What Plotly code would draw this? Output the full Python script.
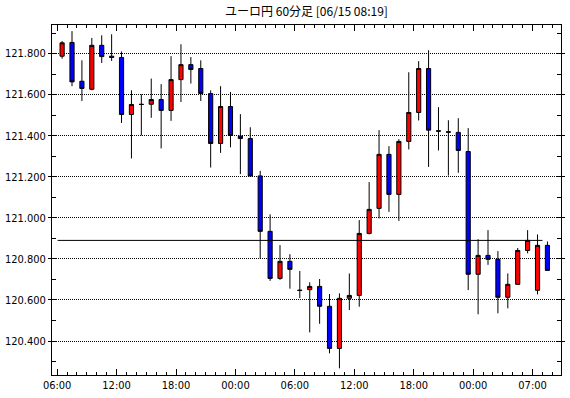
import plotly.graph_objects as go

title_text = "ユーロ円 60分足 [06/15 08:19]"

opens = [121.787, 121.854, 121.665, 121.626, 121.840, 121.787, 121.781, 121.503, 121.553, 121.553,
         121.576, 121.523, 121.673, 121.746, 121.727, 121.605, 121.362, 121.542, 121.398, 121.386,
         121.204, 120.934, 120.705, 120.788, 120.648, 120.650, 120.666, 120.569, 120.364, 120.608,
         120.622, 120.924, 121.046, 121.309, 121.114, 121.372, 121.513, 121.727, 121.424, 121.419,
         121.416, 121.323, 120.725, 120.817, 120.798, 120.613, 120.676, 120.841, 120.647, 120.866]
highs = [121.861, 121.909, 121.767, 121.876, 121.889, 121.894, 121.810, 121.621, 121.602, 121.678,
         121.651, 121.787, 121.845, 121.783, 121.767, 121.621, 121.641, 121.613, 121.505, 121.441,
         121.229, 121.017, 120.867, 120.823, 120.741, 120.686, 120.702, 120.629, 120.632, 120.729,
         120.989, 121.174, 121.427, 121.349, 121.383, 121.709, 121.763, 121.816, 121.539, 121.475,
         121.485, 121.437, 120.896, 120.940, 120.838, 120.729, 120.853, 120.940, 120.919, 120.885]
lows = [121.775, 121.641, 121.569, 121.621, 121.754, 121.764, 121.462, 121.289, 121.401, 121.487,
        121.338, 121.472, 121.564, 121.654, 121.569, 121.245, 121.316, 121.343, 121.213, 121.200,
        120.802, 120.693, 120.698, 120.655, 120.609, 120.442, 120.484, 120.340, 120.267, 120.551,
        120.567, 120.919, 120.997, 121.029, 120.985, 121.333, 121.474, 121.248, 121.328, 121.206,
        121.219, 120.648, 120.530, 120.771, 120.535, 120.559, 120.676, 120.827, 120.627, 120.744]
closes = [121.852, 121.662, 121.630, 121.840, 121.785, 121.781, 121.503, 121.552, 121.552, 121.576,
          121.523, 121.673, 121.746, 121.722, 121.605, 121.362, 121.542, 121.401, 121.386, 121.204,
          120.934, 120.705, 120.788, 120.749, 120.646, 120.666, 120.569, 120.364, 120.608, 120.622,
          120.924, 121.041, 121.309, 121.114, 121.372, 121.513, 121.727, 121.427, 121.422, 121.417,
          121.328, 120.725, 120.817, 120.798, 120.613, 120.676, 120.841, 120.890, 120.866, 120.744]

# hour slot index of each candle (0 = first 06:00 slot)
slots = list(range(len(opens)))
x_tick_slots = [0, 6, 12, 18, 24, 30, 36, 42, 48]
x_tick_labels = ["06:00", "12:00", "18:00", "00:00", "06:00", "12:00", "18:00", "00:00", "07:00"]
ref_price = 120.890
ref_line_slots = [0.05, 49.0]

xs = [s + 0.5 for s in slots]

font_fam = "Liberation Sans Narrow, DejaVu Sans Condensed, DejaVu Sans, sans-serif"

fig = go.Figure()
fig.add_trace(go.Candlestick(
    x=xs, open=opens, high=highs, low=lows, close=closes,
    increasing=dict(fillcolor="#FF0000", line=dict(color="#000000", width=1)),
    decreasing=dict(fillcolor="#0000FF", line=dict(color="#000000", width=1)),
    whiskerwidth=0, hoverinfo="skip", showlegend=False,
))
fig.add_trace(go.Scatter(
    x=ref_line_slots, y=[ref_price, ref_price], mode="lines",
    line=dict(color="#000000", width=1), hoverinfo="skip", showlegend=False,
))

fig.update_layout(
    width=570, height=398,
    margin=dict(l=49, r=5, t=25, b=23),
    paper_bgcolor="white", plot_bgcolor="white",
    boxgap=0.4,
    title=dict(text=title_text, x=0.5, xref="paper", xanchor="center",
               y=1 - 12 / 398, yref="container", yanchor="middle",
               font=dict(family="Noto Sans CJK JP", size=12, color="#000000")),
    font=dict(family=font_fam, size=11, color="#000000"),
    showlegend=False,
)
fig.update_xaxes(
    range=[-0.52, 50.87], rangeslider=dict(visible=False),
    tickmode="array", tickvals=x_tick_slots, ticktext=x_tick_labels,
    ticks="inside", ticklen=6, tickcolor="#000000", tickwidth=1,
    minor=dict(tickmode="linear", tick0=0, dtick=1, ticks="inside", ticklen=3,
               tickcolor="#000000", showgrid=False),
    showgrid=False, zeroline=False,
    showline=True, linecolor="#000000", linewidth=1, mirror="ticks",
    tickfont=dict(family=font_fam, size=11, color="#000000"),
)
fig.update_yaxes(
    range=[120.2345, 121.939],
    tickmode="linear", tick0=120.4, dtick=0.2, tickformat=".3f",
    ticks="outside", ticklen=3, tickcolor="#000000", tickwidth=1,
    minor=dict(tickmode="linear", tick0=120.3, dtick=0.1, ticks="inside", ticklen=4,
               tickcolor="#000000", showgrid=False),
    showgrid=True, gridcolor="#000000", gridwidth=1, griddash="1px,1px",
    zeroline=False,
    showline=True, linecolor="#000000", linewidth=1, mirror="ticks",
    tickfont=dict(family=font_fam, size=11, color="#000000"),
)

fig.write_html("out.html")
